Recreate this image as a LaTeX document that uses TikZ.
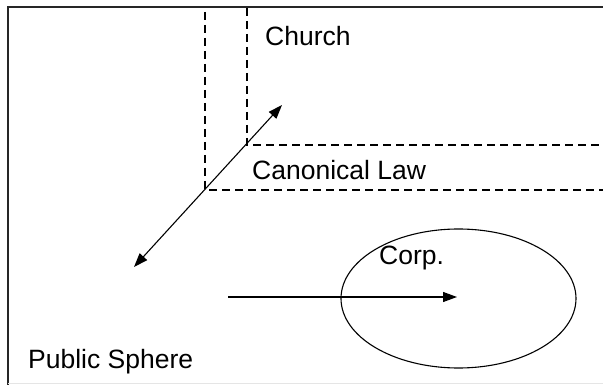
\documentclass[tikz,border=0pt]{standalone}
\usepackage{fontspec}
\setmainfont{Liberation Sans}
\usetikzlibrary{arrows.meta,shapes.geometric}
\begin{document}
\begin{tikzpicture}[x=1pt,y=-1pt,
  frame/.style={line width=1.6pt,draw=black!85},
  dashline/.style={line width=1.2pt,dash pattern=on 8pt off 5pt},
  arr/.style={line width=1.1pt,-{Triangle[length=14pt,width=10pt]}},
  darr/.style={line width=1.1pt,{Triangle[length=14pt,width=10pt]}-{Triangle[length=14pt,width=10pt]}},
  lbl/.style={anchor=base west,inner sep=0pt,font=\fontsize{26.5}{30}\selectfont}]
\useasboundingbox (0,0) rectangle (603,385);
\fill[white] (0,0) rectangle (603,385);
% frame
\coordinate (ftl) at (8,7);
\coordinate (ftr) at (603,7);
\coordinate (fbl) at (8,385);
\draw[frame] (ftr) -- (ftl) -- (fbl);
\draw[gray!20,line width=1pt] (8,383.5) -- (603,383.5);
% dashed lines
\coordinate (v1t) at (205,12);
\coordinate (v1b) at (205,190);
\coordinate (v2t) at (247,8);
\coordinate (v2b) at (247,145);
\coordinate (h1r) at (603,145);
\coordinate (h2r) at (603,190);
\draw[dashline] (v1t) -- (v1b) -- (h2r);
\draw[dashline] (v2t) -- (v2b) -- (h1r);
% ellipse
\node[draw,ellipse,line width=1.1pt,minimum width=235pt,minimum height=139pt,inner sep=0pt] (corp) at (458.5,298.5) {};
% labels
\node[lbl] (church) at (265,46) {Church};
\node[lbl] (canon) at (252,180) {Canonical Law};
\node[lbl] (corplbl) at (379,265) {Corp.};
\node[lbl] (public) at (28,368) {Public Sphere};
% arrows
\coordinate (a1) at (134,267);
\coordinate (a2) at (282,105);
\draw[darr] (a1) -- (a2);
\coordinate (b1) at (228,297);
\coordinate (b2) at (457,297);
\draw[arr] (b1) -- (b2);
\end{tikzpicture}
\end{document}
